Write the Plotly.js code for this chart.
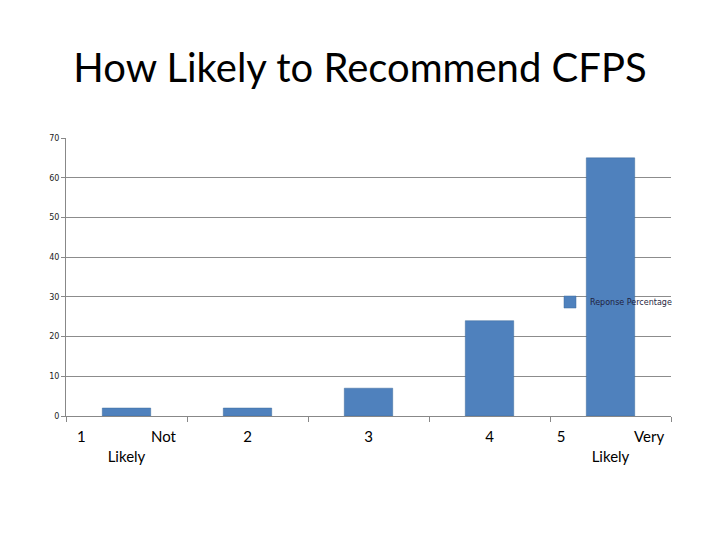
<!DOCTYPE html>
<html>
<head>
<meta charset="utf-8">
<script src="https://cdn.plot.ly/plotly-3.0.1.min.js"></script>
<style>html,body{margin:0;padding:0;background:#fff;}#chart{width:720px;height:540px;}</style>
</head>
<body>
<div id="chart"></div>
<script>
var categories = ["1", "2", "3", "4", "5"];
var tickLabels = [
  "1\u00a0\u00a0\u00a0\u00a0\u00a0\u00a0\u00a0\u00a0\u00a0\u00a0\u00a0\u00a0\u00a0\u00a0\u00a0\u00a0\u00a0Not<br>Likely",
  "2",
  "3",
  "4",
  "5\u00a0\u00a0\u00a0\u00a0\u00a0\u00a0\u00a0\u00a0\u00a0\u00a0\u00a0\u00a0\u00a0\u00a0\u00a0\u00a0\u00a0\u00a0Very<br>Likely"
];
var responsePercentage = [2, 2, 7, 24, 65];
var seriesName = "Reponse Percentage";
var titleText = "How Likely to Recommend CFPS";

var trace = {
  type: "bar",
  x: categories,
  y: responsePercentage,
  name: seriesName,
  width: 0.4,
  marker: {color: "#4f81bd", line: {color: "#3d6a9c", width: 0.5}},
  showlegend: true
};

var layout = {
  width: 720, height: 540,
  paper_bgcolor: "#fff", plot_bgcolor: "#fff",
  margin: {l: 66, r: 49, t: 138, b: 124},
  title: {text: titleText, font: {family: "Lato, 'Open Sans', sans-serif", size: 40, color: "#000"}, x: 0.5, xanchor: "center", y: 0.875, yanchor: "middle"},
  xaxis: {
    type: "category",
    tickvals: categories, ticktext: tickLabels,
    showgrid: false, showline: true, linecolor: "#888", linewidth: 1,
    ticks: "outside", ticklen: 5, tickcolor: "#888", tickson: "boundaries",
    ticklabelstandoff: 7,
    tickfont: {family: "Lato, 'Open Sans', sans-serif", size: 15, color: "#000"},
    range: [-0.5, 4.5]
  },
  yaxis: {
    range: [0, 70], dtick: 10, tick0: 0,
    showgrid: true, gridcolor: "#8c8c8c", gridwidth: 1,
    showline: true, linecolor: "#888", linewidth: 1,
    ticks: "outside", ticklen: 4, tickcolor: "#888",
    zeroline: false,
    tickfont: {family: "'DejaVu Sans', sans-serif", size: 8, color: "#222"}
  },
  legend: {
    x: 0.80, xanchor: "left", y: 0.41, yanchor: "middle",
    bgcolor: "rgba(0,0,0,0)",
    font: {family: "'DejaVu Sans', sans-serif", size: 8, color: "#1f1f3f"},
    itemwidth: 30
  },
  showlegend: true
};

Plotly.newPlot("chart", [trace], layout, {displayModeBar: false, staticPlot: true});
</script>
</body>
</html>
